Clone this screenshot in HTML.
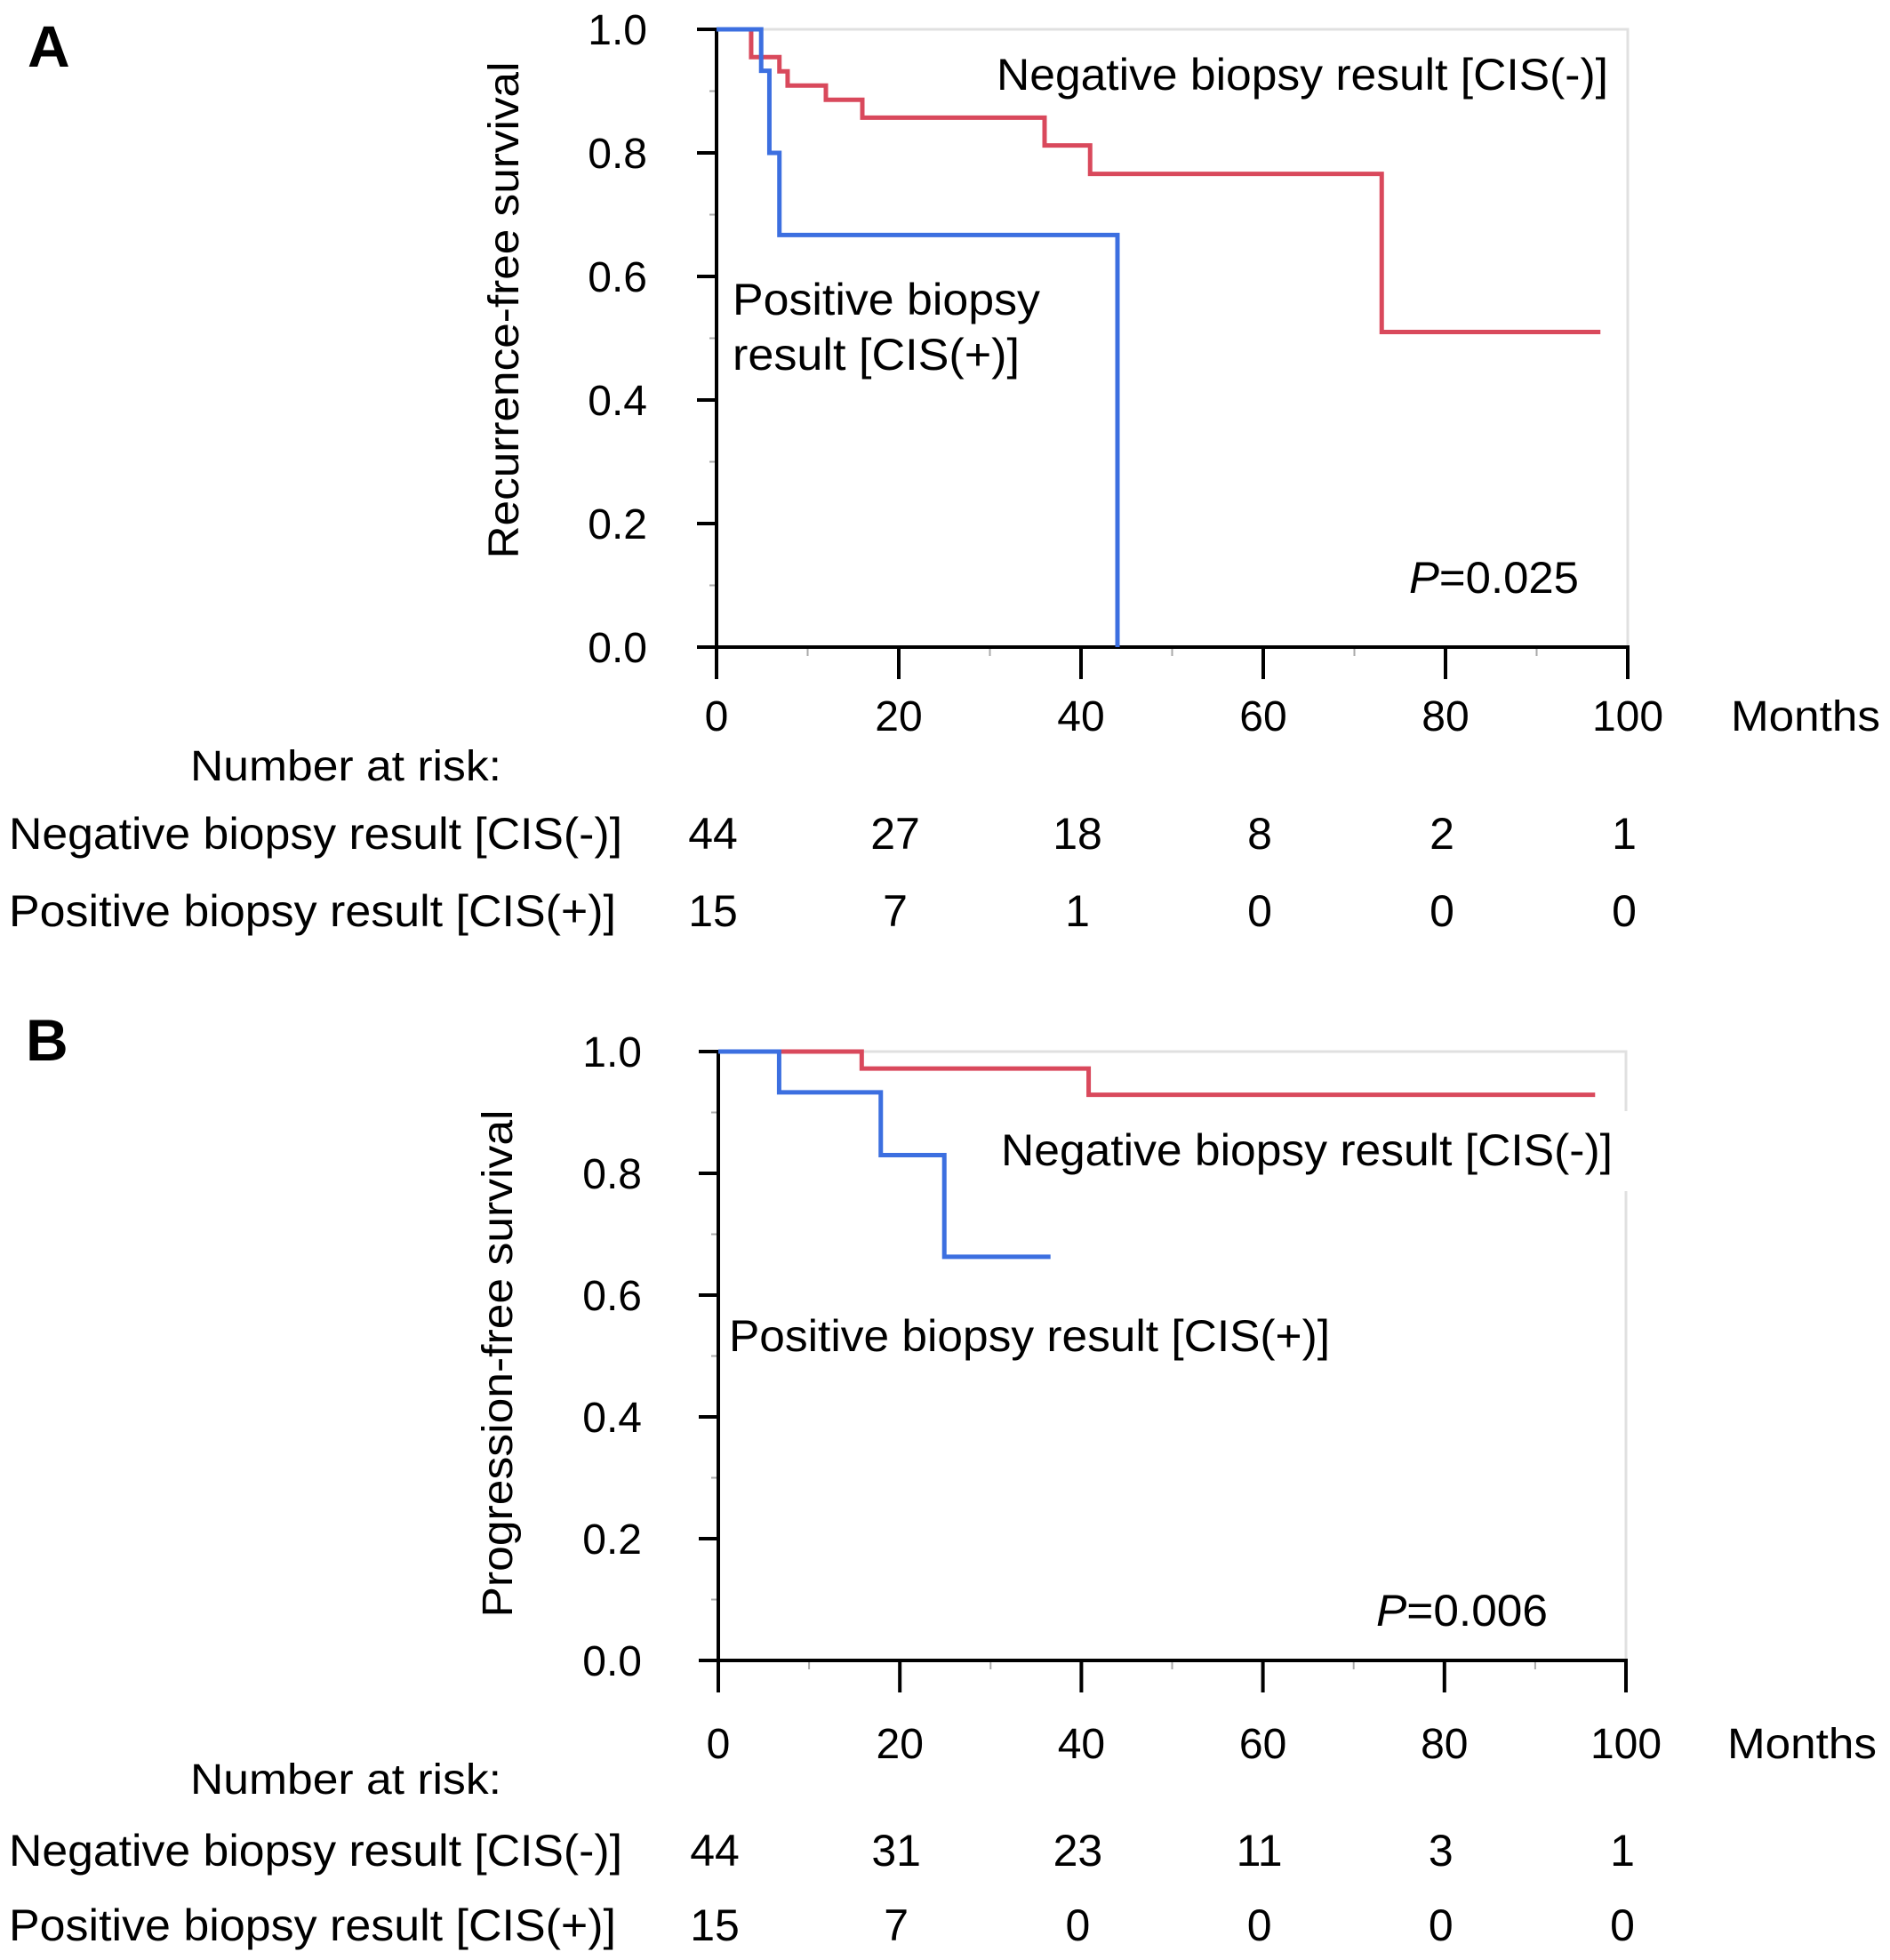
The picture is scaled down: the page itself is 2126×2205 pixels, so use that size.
<!DOCTYPE html>
<html><head><meta charset="utf-8">
<style>
html,body{margin:0;padding:0;background:#fff;}
svg{display:block;font-family:"Liberation Sans",Arial,sans-serif;}
</style></head>
<body>
<svg id="fig" width="2126" height="2205" viewBox="0 0 2126 2205" xmlns="http://www.w3.org/2000/svg"></svg>
<script>
// ---------- data ----------
const xTicks = [0, 20, 40, 60, 80, 100];
const yTicks = [0.0, 0.2, 0.4, 0.6, 0.8, 1.0];
const yTickLabels = ["0.0", "0.2", "0.4", "0.6", "0.8", "1.0"];

const aNegTimes = [0, 3.8, 6.9, 7.8, 12, 16, 36, 41, 73, 97];
const aNegSurv  = [1, 0.955, 0.932, 0.909, 0.886, 0.857, 0.812, 0.766, 0.51, 0.51];
const aPosTimes = [0, 4.9, 5.8, 6.9, 44, 44];
const aPosSurv  = [1, 0.933, 0.8, 0.667, 0, 0];

const bNegTimes = [0, 15.8, 40.8, 96.6];
const bNegSurv  = [1, 0.972, 0.929, 0.929];
const bPosTimes = [0, 6.7, 17.9, 24.9, 36.6];
const bPosSurv  = [1, 0.933, 0.83, 0.663, 0.663];

const aRiskNeg = ["44", "27", "18", "8", "2", "1"];
const aRiskPos = ["15", "7", "1", "0", "0", "0"];
const bRiskNeg = ["44", "31", "23", "11", "3", "1"];
const bRiskPos = ["15", "7", "0", "0", "0", "0"];

const NS = "http://www.w3.org/2000/svg";
const svg = document.getElementById("fig");
function mk(tag, attrs, parent) {
  const e = document.createElementNS(NS, tag);
  for (const k in attrs) e.setAttribute(k, attrs[k]);
  (parent || svg).appendChild(e);
  return e;
}
function txt(s, attrs, parent) { const e = mk("text", attrs, parent); e.textContent = s; return e; }

function panel(cfg) {
  const g = mk("g", {});
  
  
  const X = t => cfg.x0 + (cfg.x1 - cfg.x0) * t / 100;
  const Y = v => cfg.y0 + (cfg.y1 - cfg.y0) * v;
  const fr = mk("path", {d:`M${X(0)},${Y(1)} H${X(100)} V${Y(0)}`, fill:"none", stroke:"#e0e0e0", "stroke-width":3}, g);
  
  
  for (let t = 10; t < 100; t += 20) {
    const m = mk("line", {x1:X(t), x2:X(t), y1:Y(0), y2:Y(0)+10, stroke:"#aaa", "stroke-width":2}, g);
    
    
  }
  for (let v = 0.1; v < 1; v += 0.2) {
    const m = mk("line", {x1:X(0)-8, x2:X(0), y1:Y(v), y2:Y(v), stroke:"#aaa", "stroke-width":2}, g);
    
    
  }
  const ya = mk("line", {x1:X(0), x2:X(0), y1:Y(1), y2:Y(0), stroke:"#000", "stroke-width":4}, g);
  
  
  const xa = mk("line", {x1:X(0)-22, x2:X(100)+2, y1:Y(0), y2:Y(0), stroke:"#000", "stroke-width":4}, g);
  
  
  xTicks.forEach(t => {
    const l = mk("line", {x1:X(t), x2:X(t), y1:Y(0), y2:Y(0)+36, stroke:"#000", "stroke-width":4}, g);
    
    
    const lb = txt(String(t), {x:X(t), y:cfg.xLabY, "text-anchor":"middle", "font-size":48}, g);
    
    
  });
  yTicks.forEach((v, i) => {
    const l = mk("line", {x1:X(0)-22, x2:X(0), y1:Y(v), y2:Y(v), stroke:"#000", "stroke-width":4}, g);
    
    
    const lb = txt(yTickLabels[i], {x:cfg.yLabX, y:Y(v)+17, "text-anchor":"end", "font-size":48}, g);
    
    
  });
  const mo = txt("Months", {x:cfg.monthsX, y:cfg.xLabY, "font-size":48, textLength:168, lengthAdjust:"spacingAndGlyphs"}, g);
  
  
  const yt = txt(cfg.yTitle, {x:0, y:0, "text-anchor":"middle", "font-size":48, textLength:cfg.yTitleLen, lengthAdjust:"spacingAndGlyphs",
    transform:`translate(${cfg.yTitleX},${cfg.yTitleY}) rotate(-90)`}, g);
  
  
  function curve(times, surv, color, name) {
    let d = `M${X(times[0])},${Y(surv[0])}`;
    for (let i = 1; i < times.length; i++) {
      d += ` H${X(times[i])} V${Y(surv[i])}`;
    }
    const p = mk("path", {d, fill:"none", stroke:color, "stroke-width":5}, g);
    
    
  }
  curve(cfg.negT, cfg.negS, "#d9495c", "curve-cis-negative");
  curve(cfg.posT, cfg.posS, "#3c6fe0", "curve-cis-positive");
  const nr = txt("Number at risk:", {x:214, y:cfg.nrY, "font-size":48, textLength:350, lengthAdjust:"spacingAndGlyphs"}, g);
  
  
  const rn = txt("Negative biopsy result [CIS(-)]", {x:10, y:cfg.rNegY, "font-size":50, textLength:690, lengthAdjust:"spacingAndGlyphs"}, g);
  
  
  const rp = txt("Positive biopsy result [CIS(+)]", {x:10, y:cfg.rPosY, "font-size":50, textLength:683, lengthAdjust:"spacingAndGlyphs"}, g);
  
  
  xTicks.forEach((t, i) => {
    const a = txt(cfg.riskNeg[i], {x:X(t)-4, y:cfg.rNegY, "text-anchor":"middle", "font-size":50}, g);
    
    
    const b = txt(cfg.riskPos[i], {x:X(t)-4, y:cfg.rPosY, "text-anchor":"middle", "font-size":50}, g);
    
    
  });
  return {g, X, Y};
}

const A = panel({name:"panel-a", x0:806, x1:1831, y0:728, y1:33, xLabY:822, yLabX:728, monthsX:1947,
  yTitleX:583, yTitleY:349, yTitleLen:559, yTitle:"Recurrence-free survival",
  negT:aNegTimes, negS:aNegSurv, posT:aPosTimes, posS:aPosSurv,
  nrY:878, rNegY:955, rPosY:1042, riskNeg:aRiskNeg, riskPos:aRiskPos});
const la = txt("A", {x:31, y:75, "font-size":66, "font-weight":"bold"});


const an1 = txt("Negative biopsy result [CIS(-)]", {x:1121, y:101, "font-size":50, textLength:688, lengthAdjust:"spacingAndGlyphs"});


const an2 = txt("Positive biopsy", {x:824, y:354, "font-size":50, textLength:346, lengthAdjust:"spacingAndGlyphs"});


const an3 = txt("result [CIS(+)]", {x:824, y:416, "font-size":50, textLength:323, lengthAdjust:"spacingAndGlyphs"});


const pa = txt("", {x:1585, y:667, "font-size":50, textLength:191, lengthAdjust:"spacingAndGlyphs"});
pa.innerHTML = '<tspan font-style="italic">P</tspan>=0.025';



const B = panel({name:"panel-b", x0:808, x1:1829, y0:1868, y1:1183, xLabY:1978, yLabX:722, monthsX:1943,
  yTitleX:576, yTitleY:1534, yTitleLen:571, yTitle:"Progression-free survival",
  negT:bNegTimes, negS:bNegSurv, posT:bPosTimes, posS:bPosSurv,
  nrY:2018, rNegY:2099, rPosY:2183, riskNeg:bRiskNeg, riskPos:bRiskPos});
const lb = txt("B", {x:29, y:1193, "font-size":66, "font-weight":"bold"});


const mask = mk("rect", {x:1120, y:1250, width:712, height:90, fill:"#fff"});


const bn1 = txt("Negative biopsy result [CIS(-)]", {x:1126, y:1311, "font-size":50, textLength:688, lengthAdjust:"spacingAndGlyphs"});


const bn2 = txt("Positive biopsy result [CIS(+)]", {x:820, y:1520, "font-size":50, textLength:676, lengthAdjust:"spacingAndGlyphs"});


const pb = txt("", {x:1548, y:1829, "font-size":50, textLength:193, lengthAdjust:"spacingAndGlyphs"});
pb.innerHTML = '<tspan font-style="italic">P</tspan>=0.006';


</script>
</body></html>
